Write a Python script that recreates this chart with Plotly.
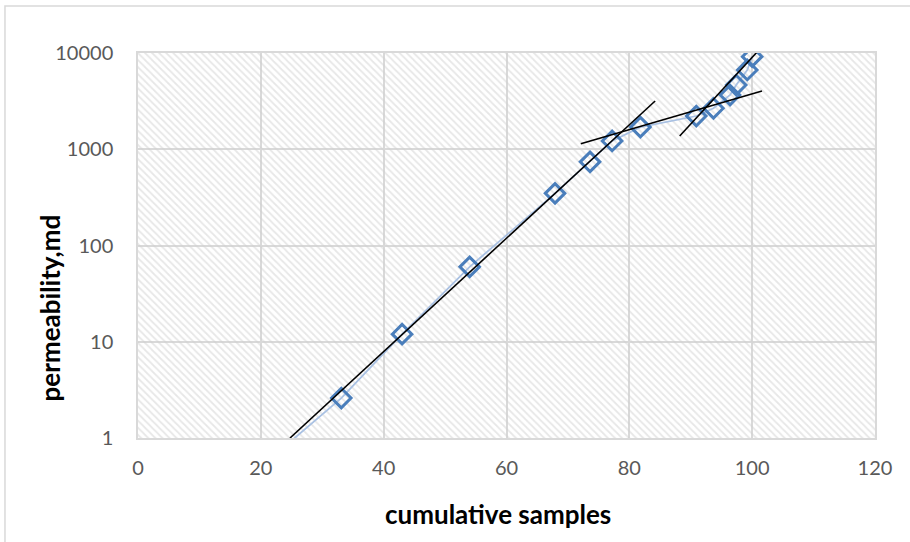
import plotly.graph_objects as go

# ---- data ----
cum_samples = [20, 33.1, 43.0, 54.0, 67.9, 73.6, 77.2, 81.8, 90.9, 93.7, 96.4, 97.4, 99.2, 100.0]
permeability = [0.5, 2.6, 12, 60, 348, 740, 1220, 1700, 2215, 2663, 3660, 4650, 6660, 9160]

trend1_x = [24.75, 84.2]
trend1_y = [1.0, 3170]
trend2_x = [72.1, 101.6]
trend2_y = [1142, 4030]
trend3_x = [88.2, 101.0]
trend3_y = [1373, 10570]

x_range = [0, 120]
y_range = [1, 10000]
x_ticks = [0, 20, 40, 60, 80, 100, 120]
y_ticks = [1, 10, 100, 1000, 10000]
y_ticktext = ["1", "10", "100", "1000", "10000"]

FONT = "Lato"
GRID = "#d9d9d9"

fig = go.Figure()

# hatched plot-area background
fig.add_trace(go.Scatter(
    x=[x_range[0], x_range[1], x_range[1], x_range[0], x_range[0]],
    y=[y_range[0], y_range[0], y_range[1], y_range[1], y_range[0]],
    mode="lines", fill="toself", line=dict(width=0),
    fillcolor="rgba(0,0,0,0)",
    fillpattern=dict(shape="\\", fgcolor="#d0d0d0", bgcolor="rgba(255,255,255,0)",
                     size=5, solidity=0.35),
    hoverinfo="skip", showlegend=False,
))

# data series
fig.add_trace(go.Scatter(
    x=cum_samples, y=permeability, mode="lines+markers",
    line=dict(color="#a9c1e3", width=1.8),
    marker=dict(symbol="diamond-open", size=15, color="#4a7ebb",
                line=dict(width=3, color="#4a7ebb")),
    showlegend=False,
))

for tx, ty in [(trend1_x, trend1_y), (trend2_x, trend2_y), (trend3_x, trend3_y)]:
    fig.add_trace(go.Scatter(x=tx, y=ty, mode="lines",
                             line=dict(color="black", width=1.6),
                             showlegend=False, hoverinfo="skip"))

fig.update_xaxes(
    range=x_range, tickvals=x_ticks, showgrid=True, gridcolor=GRID, gridwidth=1.5,
    showline=True, linecolor=GRID, linewidth=1.5, mirror=True, zeroline=False,
    ticks="", ticklabelstandoff=11,
    tickfont=dict(family=FONT, size=20, color="#595959"),
)
fig.update_yaxes(
    type="log", range=[0, 4], tickvals=y_ticks, ticktext=y_ticktext,
    showgrid=True, gridcolor=GRID, gridwidth=1.5,
    showline=True, linecolor=GRID, linewidth=1.5, mirror=True, zeroline=False,
    ticks="", ticklabelstandoff=19,
    tickfont=dict(family=FONT, size=20, color="#595959"),
)

fig.add_annotation(text="<b>cumulative samples</b>", xref="paper", yref="paper",
                   x=0.488, y=-0.197, xanchor="center", yanchor="middle", showarrow=False,
                   font=dict(family=FONT, size=26, color="black"))
fig.add_annotation(text="<b>permeability,md</b>", xref="paper", yref="paper",
                   x=-0.12, y=0.338, xanchor="center", yanchor="middle", showarrow=False,
                   textangle=-90, font=dict(family=FONT, size=26, color="black"))

# chart-area border (extends beyond the visible window at right and bottom)
fig.add_shape(type="rect", xref="paper", yref="paper",
              x0=-0.1805, x1=1.08, y0=-0.3, y1=1.122,
              line=dict(color=GRID, width=1.5), fillcolor="rgba(0,0,0,0)", layer="below")

fig.update_layout(
    width=910, height=542,
    margin=dict(l=138, r=35, t=53, b=104),
    paper_bgcolor="white", plot_bgcolor="white",
    showlegend=False,
)

# remove the browser's default 8px body margin so the figure sits at the page origin
fig.write_html("out.html", config={"displayModeBar": False},
               post_script="document.body.style.margin='0';")
